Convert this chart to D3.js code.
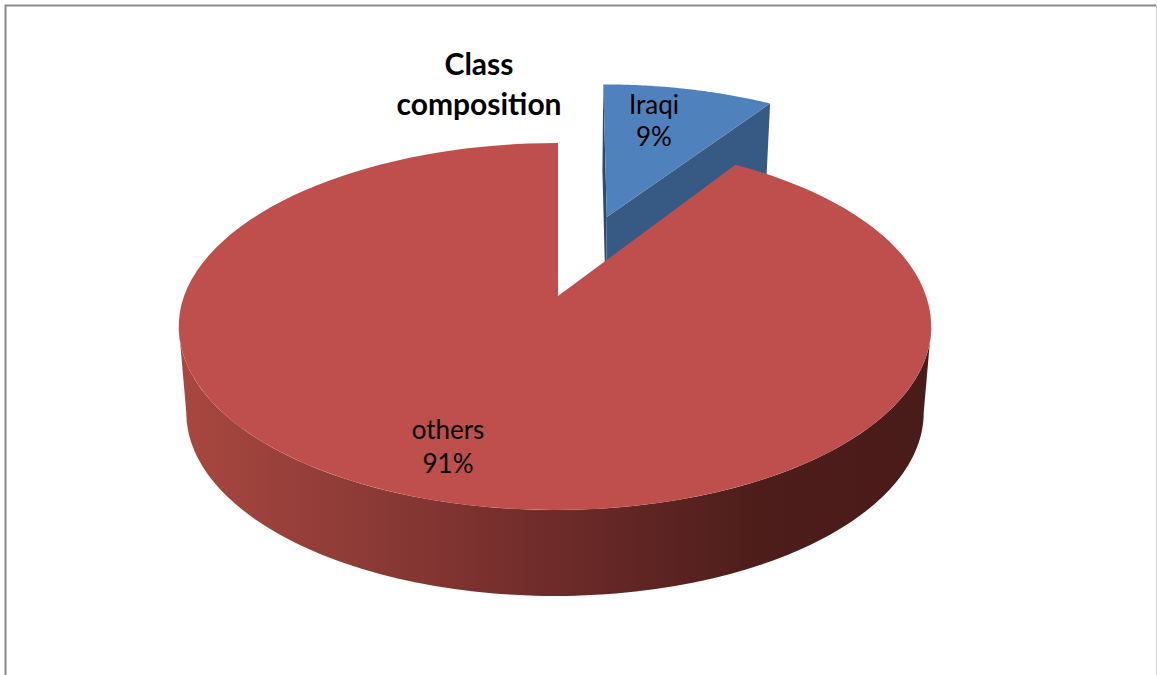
<!DOCTYPE html>
<html>
<meta charset='utf-8'>
<title>Class composition</title>
<style>
  html, body { margin: 0; padding: 0; background: #fff; overflow: hidden; }
  text { font-family: Lato, sans-serif; fill: #000; }
</style>
<script src='https://d3js.org/d3.v7.min.js'></script>
<body>
<script>
  var titleLines = ['Class', 'composition'];
  var categories = ['Iraqi', 'others'];
  var values = [9.2, 90.8];
  var labelText = ['9%', '91%'];
  var topColors = ['#4f81bd', '#be4f4c'];
  var sideColor = '#375a84';
  var rimStops = ['#a8473f', '#8c3a36', '#6e2b29', '#4c1d1a', '#4a1c19'];

  var width = 1157, height = 675;

  var svg = d3.select('body').append('svg')
    .attr('width', width)
    .attr('height', height);

  // chart frame, only three sides are in the crop
  svg.append('path')
    .attr('d', 'M5.5,675V5.5H1156')
    .attr('fill', 'none')
    .attr('stroke', '#8a8a8a')
    .attr('stroke-width', 2);
  svg.append('line')
    .attr('x1', 1156.5).attr('x2', 1156.5)
    .attr('y1', 5).attr('y2', 675)
    .attr('stroke', '#cfcfcf')
    .attr('stroke-width', 1);

  // perspective of the pie plane: u is depth on the unit circle, v is across
  var centerX = 558, radiusX = 371, persp = -0.1662, yA = 129.2, yB = 296;
  var depth = 86, lowerShrink = 0.98;

  function project(v, u, lower) {
    var w = 1 + persp * u;
    var x = radiusX * v / w;
    var y = (yA * u + yB) / w;
    if (lower) return [centerX - 3 + x * lowerShrink, y + depth];
    return [centerX + x, y];
  }

  // d3.pie gives the angles, first slice starts at 12 o'clock going clockwise
  var pie = d3.pie().sort(null)(values);
  var blue = pie[0], red = pie[1];

  var explodeAngle = (blue.startAngle + blue.endAngle) / 2;
  var explode = 0.498;

  function rimPoint(a, lower, off) {
    var v = Math.sin(a), u = -Math.cos(a), p;
    if (off) {
      v += explode * Math.sin(explodeAngle);
      u -= explode * Math.cos(explodeAngle);
      p = project(v, u, lower);
      // the exploded wedge leans a little to the right at its far edge
      p[0] -= 3 * (u + 0.478);
      if (lower) p[0] += 3;
      return p;
    }
    p = project(v, u, lower);
    // near part of the rim sits left of the wedge tip
    if (!lower) p[0] -= 3 * Math.min(1, 1 + u);
    return p;
  }
  function apex(lower, off) {
    var v = 0, u = 0, p;
    if (off) {
      v = explode * Math.sin(explodeAngle);
      u = -explode * Math.cos(explodeAngle);
    }
    p = project(v, u, lower);
    if (off && lower) p[0] += 3;
    return p;
  }
  function sweep(a0, a1, lower, off) {
    return d3.range(0, 121).map(function(i) {
      return rimPoint(a0 + (a1 - a0) * i / 120, lower, off);
    });
  }

  var line = d3.line().curve(d3.curveLinearClosed);

  var defs = svg.append('defs');
  var xScale = d3.scaleLinear().domain([0, 1]).range([184, 926]);
  var grad = defs.append('linearGradient')
    .attr('id', 'rim')
    .attr('gradientUnits', 'userSpaceOnUse')
    .attr('x1', xScale(0)).attr('x2', xScale(1))
    .attr('y1', 0).attr('y2', 0);
  grad.selectAll('stop')
    .data(rimStops)
    .enter().append('stop')
    .attr('offset', function(d, i) { return [0, 0.25, 0.5, 0.78, 1][i]; })
    .attr('stop-color', function(d) { return d; });

  // blue wedge, walls first then its top
  svg.append('path')
    .attr('d', line([
      rimPoint(blue.startAngle, false, true), apex(false, true),
      apex(true, true), rimPoint(blue.startAngle, true, true)
    ]))
    .attr('fill', '#2c4a6e');
  svg.append('path')
    .attr('d', line([
      apex(false, true), rimPoint(blue.endAngle, false, true),
      rimPoint(blue.endAngle, true, true), apex(true, true)
    ]))
    .attr('fill', sideColor);
  svg.append('path')
    .attr('d', line([apex(false, true)].concat(sweep(blue.startAngle, blue.endAngle, false, true))))
    .attr('fill', topColors[0]);

  // red outer wall, front part of the rim only
  var left = Math.PI * 2 - 1.7376, right = 1.7376;
  svg.append('path')
    .attr('d', line(sweep(right, left, false, false).concat(sweep(left, right, true, false))))
    .attr('fill', 'url(#rim)');

  // red top
  svg.append('path')
    .attr('d', line([apex(false, false)].concat(sweep(red.startAngle, red.endAngle, false, false))))
    .attr('fill', topColors[1]);

  // title
  svg.selectAll('.title')
    .data(titleLines)
    .enter().append('text')
    .attr('class', 'title')
    .attr('x', 479)
    .attr('y', function(d, i) { return 75 + i * 40; })
    .attr('text-anchor', 'middle')
    .style('font-size', '30px')
    .style('font-weight', 'bold')
    .text(function(d) { return d; });

  // slice labels
  var labelPos = [[654, 114], [448, 439]];
  var labelGap = [32, 34];
  categories.forEach(function(c, i) {
    svg.append('text')
      .attr('x', labelPos[i][0]).attr('y', labelPos[i][1])
      .attr('text-anchor', 'middle')
      .style('font-size', '26px')
      .text(c);
    svg.append('text')
      .attr('x', labelPos[i][0]).attr('y', labelPos[i][1] + labelGap[i])
      .attr('text-anchor', 'middle')
      .style('font-size', '26px')
      .text(labelText[i]);
  });
</script>
</body>
</html>
